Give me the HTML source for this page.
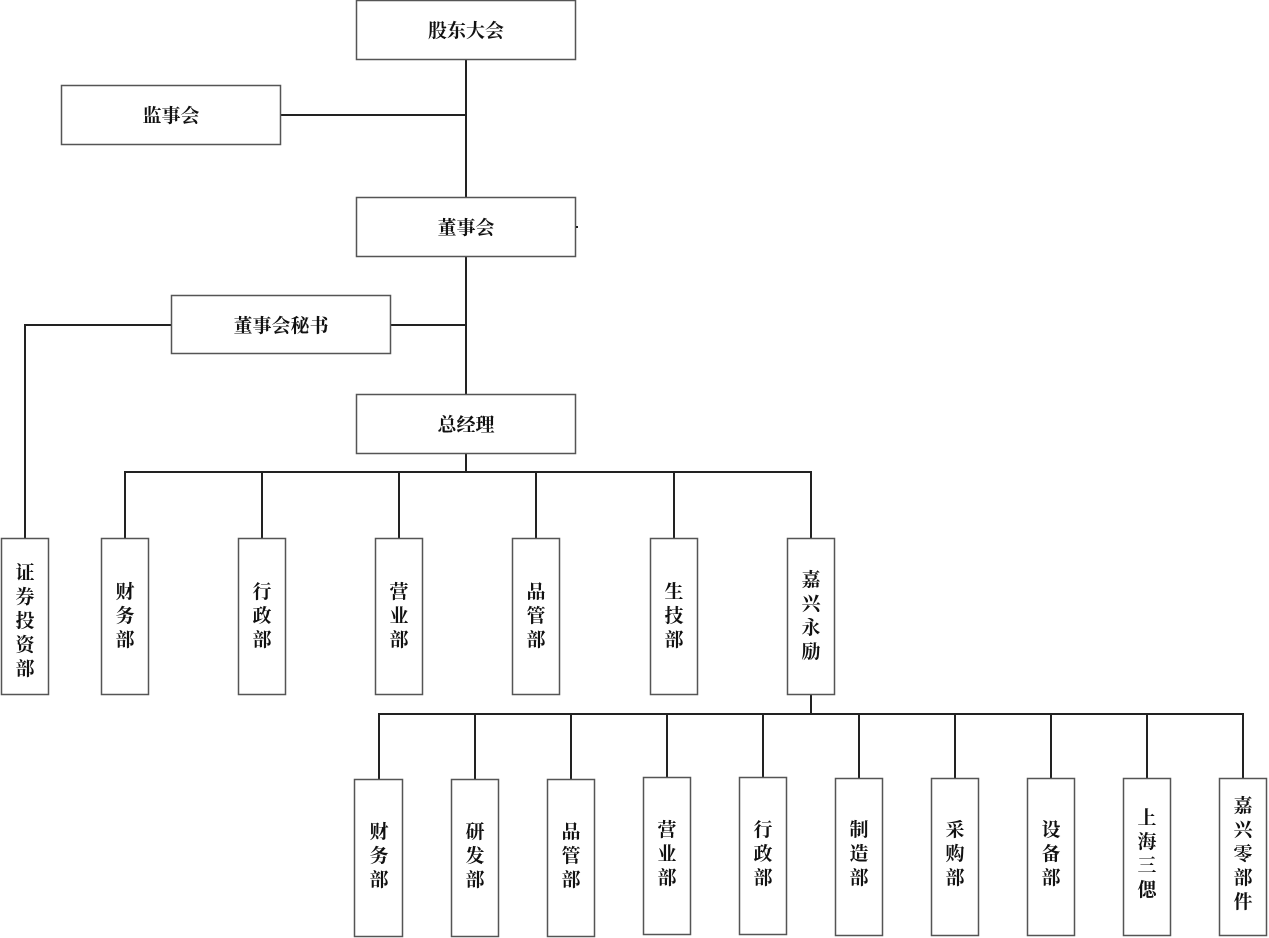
<!DOCTYPE html>
<html><head><meta charset="utf-8"><style>
html,body{margin:0;padding:0;background:#fff;}
svg{display:block;}
text{font-family:"Liberation Serif","Noto Serif CJK SC",serif;font-size:19px;font-weight:bold;fill:#111;}
</style></head><body>
<svg width="1269" height="938" viewBox="0 0 1269 938" xmlns="http://www.w3.org/2000/svg">
<g fill="none" stroke="#222" stroke-width="2">
<line x1="466" y1="60" x2="466" y2="197"/>
<line x1="281" y1="115" x2="466" y2="115"/>
<line x1="466" y1="257" x2="466" y2="394"/>
<line x1="391" y1="325" x2="466" y2="325"/>
<polyline points="171,325 25,325 25,538"/>
<line x1="466" y1="454" x2="466" y2="472"/>
<line x1="124" y1="472" x2="812" y2="472"/>
<line x1="125" y1="472" x2="125" y2="538"/>
<line x1="262" y1="472" x2="262" y2="538"/>
<line x1="399" y1="472" x2="399" y2="538"/>
<line x1="536" y1="472" x2="536" y2="538"/>
<line x1="674" y1="472" x2="674" y2="538"/>
<line x1="811" y1="472" x2="811" y2="538"/>
<line x1="811" y1="695" x2="811" y2="714"/>
<line x1="378" y1="714" x2="1244" y2="714"/>
<line x1="379" y1="714" x2="379" y2="779"/>
<line x1="475" y1="714" x2="475" y2="779"/>
<line x1="571" y1="714" x2="571" y2="779"/>
<line x1="667" y1="714" x2="667" y2="777"/>
<line x1="763" y1="714" x2="763" y2="777"/>
<line x1="859" y1="714" x2="859" y2="778"/>
<line x1="955" y1="714" x2="955" y2="778"/>
<line x1="1051" y1="714" x2="1051" y2="778"/>
<line x1="1147" y1="714" x2="1147" y2="778"/>
<line x1="1243" y1="714" x2="1243" y2="778"/>
</g>
<g fill="#fff" stroke="#555" stroke-width="1.5">
<rect x="356.5" y="0.5" width="219" height="59"/>
<rect x="61.5" y="85.5" width="219" height="59"/>
<rect x="356.5" y="197.5" width="219" height="59"/>
<rect x="171.5" y="295.5" width="219" height="58"/>
<rect x="356.5" y="394.5" width="219" height="59"/>
<rect x="1.5" y="538.5" width="47" height="156"/>
<rect x="101.5" y="538.5" width="47" height="156"/>
<rect x="238.5" y="538.5" width="47" height="156"/>
<rect x="375.5" y="538.5" width="47" height="156"/>
<rect x="512.5" y="538.5" width="47" height="156"/>
<rect x="650.5" y="538.5" width="47" height="156"/>
<rect x="787.5" y="538.5" width="47" height="156"/>
<rect x="354.5" y="779.5" width="48" height="157"/>
<rect x="451.5" y="779.5" width="47" height="157"/>
<rect x="547.5" y="779.5" width="47" height="157"/>
<rect x="643.5" y="777.5" width="47" height="157"/>
<rect x="739.5" y="777.5" width="47" height="157"/>
<rect x="835.5" y="778.5" width="47" height="157"/>
<rect x="931.5" y="778.5" width="47" height="157"/>
<rect x="1027.5" y="778.5" width="47" height="157"/>
<rect x="1123.5" y="778.5" width="47" height="157"/>
<rect x="1219.5" y="778.5" width="47" height="157"/>
</g>
<rect x="576" y="226" width="2" height="2" fill="#222"/>
<g text-anchor="middle">
<text x="466" y="37">股东大会</text>
<text x="171" y="122">监事会</text>
<text x="466" y="234">董事会</text>
<text x="281" y="332">董事会秘书</text>
<text x="466" y="431">总经理</text>
<text x="25" y="579">证<tspan x="25" dy="24">券</tspan><tspan x="25" dy="24">投</tspan><tspan x="25" dy="24">资</tspan><tspan x="25" dy="24">部</tspan></text>
<text x="125" y="598">财<tspan x="125" dy="24">务</tspan><tspan x="125" dy="24">部</tspan></text>
<text x="262" y="598">行<tspan x="262" dy="24">政</tspan><tspan x="262" dy="24">部</tspan></text>
<text x="399" y="598">营<tspan x="399" dy="24">业</tspan><tspan x="399" dy="24">部</tspan></text>
<text x="536" y="598">品<tspan x="536" dy="24">管</tspan><tspan x="536" dy="24">部</tspan></text>
<text x="674" y="598">生<tspan x="674" dy="24">技</tspan><tspan x="674" dy="24">部</tspan></text>
<text x="811" y="586">嘉<tspan x="811" dy="24">兴</tspan><tspan x="811" dy="24">永</tspan><tspan x="811" dy="24">励</tspan></text>
<text x="379" y="838">财<tspan x="379" dy="24">务</tspan><tspan x="379" dy="24">部</tspan></text>
<text x="475" y="838">研<tspan x="475" dy="24">发</tspan><tspan x="475" dy="24">部</tspan></text>
<text x="571" y="838">品<tspan x="571" dy="24">管</tspan><tspan x="571" dy="24">部</tspan></text>
<text x="667" y="836">营<tspan x="667" dy="24">业</tspan><tspan x="667" dy="24">部</tspan></text>
<text x="763" y="836">行<tspan x="763" dy="24">政</tspan><tspan x="763" dy="24">部</tspan></text>
<text x="859" y="836">制<tspan x="859" dy="24">造</tspan><tspan x="859" dy="24">部</tspan></text>
<text x="955" y="836">采<tspan x="955" dy="24">购</tspan><tspan x="955" dy="24">部</tspan></text>
<text x="1051" y="836">设<tspan x="1051" dy="24">备</tspan><tspan x="1051" dy="24">部</tspan></text>
<text x="1147" y="824">上<tspan x="1147" dy="24">海</tspan><tspan x="1147" dy="24">三</tspan><tspan x="1147" dy="24">偲</tspan></text>
<text x="1243" y="812">嘉<tspan x="1243" dy="24">兴</tspan><tspan x="1243" dy="24">零</tspan><tspan x="1243" dy="24">部</tspan><tspan x="1243" dy="24">件</tspan></text>
</g>
</svg>
</body></html>
